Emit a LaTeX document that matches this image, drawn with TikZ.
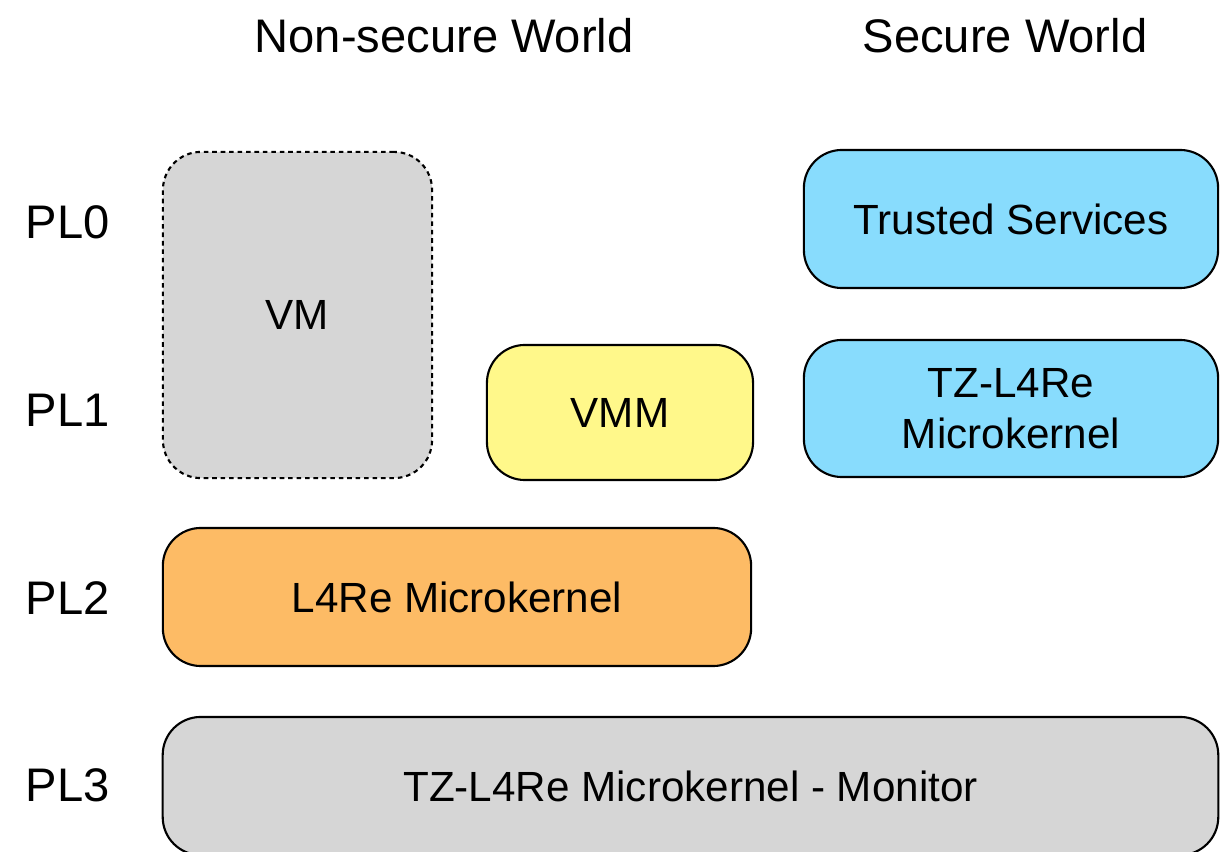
\documentclass[tikz,border=0pt]{standalone}
\usepackage{fontspec}
\setmainfont{Liberation Sans}
\definecolor{vmgray}{HTML}{D6D6D6}
\definecolor{vmmyellow}{HTML}{FFF88A}
\definecolor{tzblue}{HTML}{88DCFD}
\definecolor{l4orange}{HTML}{FDBB65}
\begin{document}
\begin{tikzpicture}[x=0.01cm,y=-0.01cm,
    layer/.style={draw,line width=0.6pt,rounded corners=0.38cm,align=center,
      font=\fontsize{12}{14.5}\selectfont,inner sep=0pt},
    level/.style={anchor=base west,inner sep=0pt,font=\fontsize{13.4}{16}\selectfont}]
    \useasboundingbox (0,0) rectangle (1229,852);
    \node[level] (nsw) at (254,53) {Non-secure World};
    \node[level] (sw) at (862,53) {Secure World};
    \node[level] (pl0) at (25,239) {PL0};
    \node[level] (pl1) at (25,427) {PL1};
    \node[level] (pl2) at (25,615) {PL2};
    \node[level] (pl3) at (25,802) {PL3};
    \node[layer,fill=vmgray,dash pattern=on 1.3pt off 1.1pt,minimum width=2.69cm,minimum height=3.26cm] (vm) at (297.5,315) {VM};
    \node[layer,fill=vmmyellow,minimum width=2.66cm,minimum height=1.35cm] (vmm) at (620,412.5) {VMM};
    \node[layer,fill=tzblue,minimum width=4.14cm,minimum height=1.38cm] (ts) at (1011,219) {Trusted Services};
    \node[layer,fill=tzblue,minimum width=4.14cm,minimum height=1.37cm] (tzk) at (1011,408.5) {TZ-L4Re\\Microkernel};
    \node[layer,fill=l4orange,minimum width=5.88cm,minimum height=1.38cm] (l4k) at (457,597) {L4Re Microkernel};
    \node[layer,fill=vmgray,minimum width=10.55cm,minimum height=1.38cm] (mon) at (690.5,786) {TZ-L4Re Microkernel - Monitor};
\end{tikzpicture}
\end{document}
